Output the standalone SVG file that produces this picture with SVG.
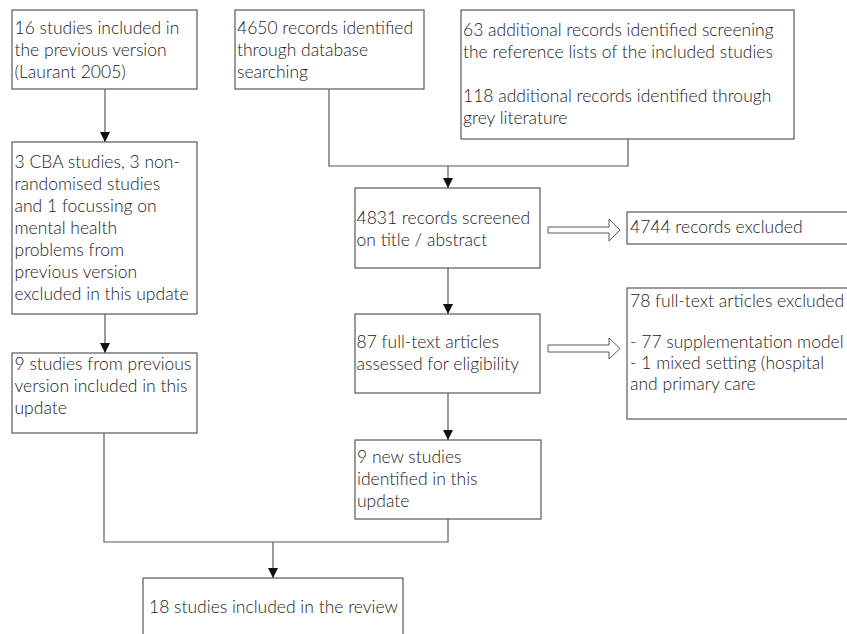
<svg xmlns="http://www.w3.org/2000/svg" width="847" height="634" viewBox="0 0 847 634">
<defs>
<style>
.box{fill:#fff;stroke:#595959;stroke-width:1.2}
.ln{fill:none;stroke:#595959;stroke-width:1.2}
.blk{fill:#fff;stroke:#595959;stroke-width:1}
text{font-family:Lato,"Liberation Sans",sans-serif;font-weight:300;font-size:17.5px;fill:#222}
</style>
<marker id="ah" markerUnits="userSpaceOnUse" markerWidth="10" markerHeight="10" refX="10" refY="5" orient="auto">
<path d="M0,0 L10,5 L0,10 z" fill="#111"/>
</marker>
</defs>
<rect width="847" height="634" fill="#fff"/>
<g id="connectors">
<line class="ln" x1="105" y1="89" x2="105" y2="142" marker-end="url(#ah)"/>
<line class="ln" x1="105" y1="314" x2="105" y2="353" marker-end="url(#ah)"/>
<polyline class="ln" points="329,89 329,166 628,166 628,139"/>
<line class="ln" x1="448" y1="166" x2="448" y2="188" marker-end="url(#ah)"/>
<line class="ln" x1="448" y1="268" x2="448" y2="314" marker-end="url(#ah)"/>
<line class="ln" x1="448" y1="393" x2="448" y2="440" marker-end="url(#ah)"/>
<polyline class="ln" points="104,433 104,542 448,542 448,519"/>
<line class="ln" x1="273" y1="542" x2="273" y2="578" marker-end="url(#ah)"/>
<polygon class="blk" points="548,227 609,227 609,219 620,230 609,241 609,233 548,233"/>
<polygon class="blk" points="548,345 609,345 609,338 620,348.5 609,359 609,352 548,352"/>
</g>
<g id="prev16">
<rect class="box" x="12" y="10" width="185" height="79"/>
<text x="14.5" y="34">16 studies included in</text>
<text x="14.5" y="56">the previous version</text>
<text x="14.5" y="78">(Laurant 2005)</text>
</g>
<g id="db4650">
<rect class="box" x="235" y="10" width="189" height="79"/>
<text x="237" y="34">4650 records identified</text>
<text x="237" y="56">through database</text>
<text x="237" y="78">searching</text>
</g>
<g id="additional">
<rect class="box" x="461" y="10" width="333" height="129"/>
<text x="463" y="36">63 additional records identified screening</text>
<text x="463" y="58">the reference lists of the included studies</text>
<text x="463" y="102">118 additional records identified through</text>
<text x="463" y="124">grey literature</text>
</g>
<g id="excludedPrev">
<rect class="box" x="12" y="142" width="185" height="172"/>
<text x="14.5" y="167.5">3 CBA studies, 3 non-</text>
<text x="14.5" y="189.5">randomised studies</text>
<text x="14.5" y="211.5">and 1 focussing on</text>
<text x="14.5" y="233.5">mental health</text>
<text x="14.5" y="255.5">problems from</text>
<text x="14.5" y="277.5">previous version</text>
<text x="14.5" y="299.5">excluded in this update</text>
</g>
<g id="prev9">
<rect class="box" x="12" y="353" width="185" height="80"/>
<text x="14.5" y="369.5">9 studies from previous</text>
<text x="14.5" y="391.5">version included in this</text>
<text x="14.5" y="413.5">update</text>
</g>
<g id="screened">
<rect class="box" x="355" y="188" width="185" height="80"/>
<text x="356.5" y="224">4831 records screened</text>
<text x="356.5" y="246">on title / abstract</text>
</g>
<g id="fulltext">
<rect class="box" x="355" y="314" width="185" height="79"/>
<text x="356.5" y="347.5">87 full-text articles</text>
<text x="356.5" y="369.5">assessed for eligibility</text>
</g>
<g id="new9">
<rect class="box" x="355" y="440" width="186" height="79"/>
<text x="357" y="463">9 new studies</text>
<text x="357" y="485">identified in this</text>
<text x="357" y="507">update</text>
</g>
<g id="included18">
<rect class="box" x="143" y="578" width="260" height="70"/>
<text x="149" y="613">18 studies included in the review</text>
</g>
<g id="excl4744">
<rect class="box" x="627" y="212" width="240" height="32"/>
<text x="630" y="233">4744 records excluded</text>
</g>
<g id="excl78">
<rect class="box" x="627" y="288" width="240" height="131"/>
<text x="630" y="307">78 full-text articles excluded</text>
<text x="630" y="348">- 77 supplementation model</text>
<text x="630" y="369">- 1 mixed setting (hospital</text>
<text x="630" y="390">and primary care</text>
</g>
</svg>
